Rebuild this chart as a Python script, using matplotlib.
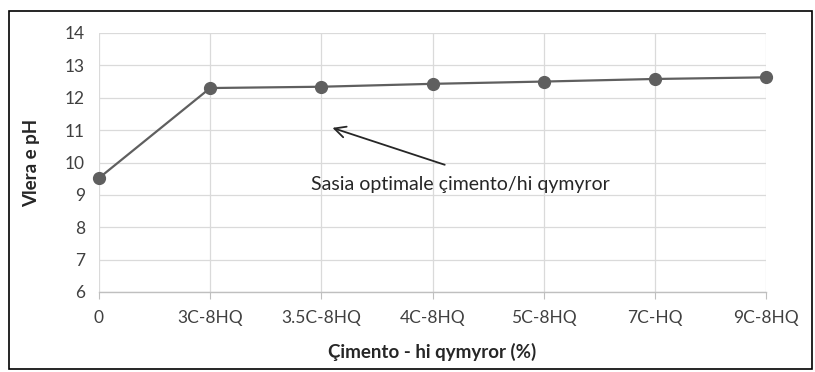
import matplotlib
matplotlib.use("Agg")
import matplotlib.pyplot as plt
from matplotlib.patches import Rectangle

categories = ["0", "3C-8HQ", "3.5C-8HQ", "4C-8HQ", "5C-8HQ", "7C-HQ", "9C-8HQ"]
ph_values = [9.52, 12.30, 12.34, 12.43, 12.50, 12.58, 12.63]
y_ticks = [6, 7, 8, 9, 10, 11, 12, 13, 14]

plt.rcParams['font.family'] = ['Lato', 'DejaVu Sans']

fig = plt.figure(figsize=(8.15, 3.72), dpi=100)
ax = fig.add_axes([99/815, 1-292/372, (766-99)/815, (292-33)/372])

x = list(range(len(categories)))
ax.plot(x, ph_values, color="#5f5f5f", lw=1.6, marker="o", markersize=8.5,
        markerfacecolor="#5f5f5f", markeredgecolor="#5f5f5f", zorder=3, clip_on=False)

ax.set_xlim(0, len(categories)-1)
ax.set_ylim(6, 14)
ax.set_xticks(x)
ax.set_xticklabels(categories, fontsize=12.5, color="#404040")
ax.set_yticks(y_ticks)
ax.set_yticklabels([str(t) for t in y_ticks], fontsize=12.5, color="#404040")

ax.grid(True, color="#dadada", lw=0.9)
ax.set_axisbelow(True)
for s in ["top", "right", "left"]:
    ax.spines[s].set_visible(False)
ax.spines["bottom"].set_color("#bfbfbf")
ax.spines["bottom"].set_linewidth(1.0)
ax.tick_params(axis="x", length=5, color="#bfbfbf", pad=8)
ax.tick_params(axis="y", length=0, pad=10)

ax.set_xlabel("Çimento - hi qymyror (%)", fontsize=13.5, fontweight="bold", color="#262626", labelpad=12)
ax.set_ylabel("Vlera e pH", fontsize=13.5, fontweight="bold", color="#262626", labelpad=18)

ax.annotate("", xy=(2.1, 11.07), xytext=(3.11, 9.93),
            arrowprops=dict(arrowstyle="->", color="#262626", lw=1.3,
                            shrinkA=0, shrinkB=0, mutation_scale=20))
ax.text(3.25, 9.31, "Sasia optimale çimento/hi qymyror", fontsize=14,
        color="#262626", ha="center", va="center")

fig.patches.append(Rectangle((9/815, 1-369/372), (812-9)/815, (369-11)/372,
                             transform=fig.transFigure, fill=False,
                             edgecolor="#000000", lw=1.2))

fig.savefig("out.png", dpi=100)
